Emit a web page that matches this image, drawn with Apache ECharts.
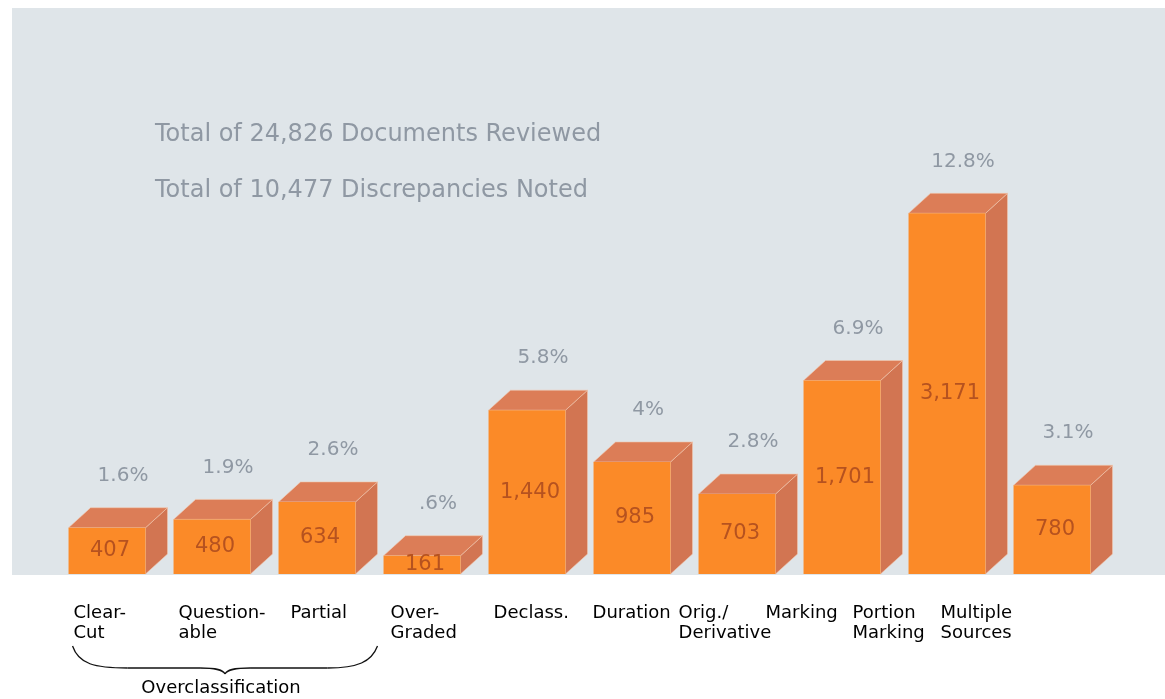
<!DOCTYPE html>
<html>
<head>
<meta charset="utf-8">
<script src="https://cdn.jsdelivr.net/npm/echarts@6/dist/echarts.min.js"></script>
<style>
  html, body { margin: 0; padding: 0; background: #ffffff; }
  #chart { width: 1165px; height: 699px; }
</style>
</head>
<body>
<div id="chart"></div>
<script>
// Discrepancies by category
const categories = [
  'Clear-\nCut', 'Question-\nable', 'Partial', 'Over-\nGraded', 'Declass.',
  'Duration', 'Orig./\nDerivative', 'Marking', 'Portion\nMarking', 'Multiple\nSources'
];
const counts = [407, 480, 634, 161, 1440, 985, 703, 1701, 3171, 780];
const percents = ['1.6%', '1.9%', '2.6%', '.6%', '5.8%', '4%', '2.8%', '6.9%', '12.8%', '3.1%'];
const headerLines = ['Total of 24,826 Documents Reviewed', 'Total of 10,477 Discrepancies Noted'];
const groupLabel = 'Overclassification';
const groupRange = [0, 2];

// typeset nudges of the category captions relative to each bar's front face
const captionShift = [5, 5, 12, 7, 5, -1, -20, -38, -56, -73];

const FONT = '"DejaVu Sans", "Liberation Sans", sans-serif';
const FRONT = '#fb8a28';
const TOP = '#dc7d57';
const SIDE = '#d27552';
const DX = 22, DY = 20;
const FRONT_RATIO = 0.733, FRONT_INSET = 0.129;

const chart = echarts.init(document.getElementById('chart'));

function barGeom(api, i, v) {
  const base = api.coord([i, 0]);
  const top = api.coord([i, v]);
  const bw = api.size([1, 0])[0];
  const fw = bw * FRONT_RATIO;
  const x0 = base[0] - bw / 2 + bw * FRONT_INSET;
  return { x0, fw, yb: base[1], yt: top[1] };
}

const panel = {
  type: 'rect', z: -10, silent: true,
  shape: { x: 12, y: 8, width: 1153, height: 567 },
  style: { fill: '#dfe5e9' }
};

chart.setOption({
  animation: false,
  backgroundColor: '#ffffff',
  title: {
    text: headerLines.join('\n'),
    left: 150,
    top: 102,
    textStyle: { fontFamily: FONT, fontSize: 24, fontWeight: 'normal', color: '#8f98a3', lineHeight: 56 }
  },
  grid: { left: 55, right: 60, top: 119, bottom: 125 },
  xAxis: { type: 'category', data: categories, show: false },
  yAxis: { type: 'value', min: 0, max: 4000, show: false },
  graphic: [panel],
  series: [{
    type: 'custom',
    clip: false,
    data: counts.map((c, i) => [i, c]),
    renderItem(params, api) {
      const i = api.value(0);
      const v = api.value(1);
      const { x0, fw, yb, yt } = barGeom(api, i, v);
      return {
        type: 'group',
        children: [
          {
            type: 'polygon',
            shape: { points: [[x0 + fw, yt], [x0 + fw + DX, yt - DY], [x0 + fw + DX, yb - DY], [x0 + fw, yb]] },
            style: { fill: SIDE, stroke: '#f2c9b0', lineWidth: 0.6 }
          },
          {
            type: 'polygon',
            shape: { points: [[x0, yt], [x0 + DX, yt - DY], [x0 + fw + DX, yt - DY], [x0 + fw, yt]] },
            style: { fill: TOP, stroke: '#f2c9b0', lineWidth: 0.6 }
          },
          {
            type: 'rect',
            shape: { x: x0, y: yt, width: fw, height: yb - yt },
            style: { fill: FRONT }
          },
          {
            type: 'text',
            style: {
              text: echarts.format.addCommas(v),
              x: x0 + fw / 2 + 3, y: (yt + yb) / 2,
              align: 'center', verticalAlign: 'middle',
              fontFamily: FONT, fontSize: 21, fill: '#b6521f'
            }
          },
          {
            type: 'text',
            style: {
              text: percents[i],
              x: x0 + (fw + DX) / 2 + 5, y: yt - DY - 32,
              align: 'center', verticalAlign: 'middle',
              fontFamily: FONT, fontSize: 20, fill: '#8f98a3'
            }
          },
          {
            type: 'text',
            style: {
              text: categories[i],
              x: x0 + captionShift[i], y: yb + 29,
              align: 'left', verticalAlign: 'top',
              fontFamily: FONT, fontSize: 18, lineHeight: 20, fill: '#000000'
            }
          }
        ]
      };
    }
  }]
});

// brace grouping the overclassification categories
const px = (i) => chart.convertToPixel({ xAxisIndex: 0 }, i);
const bw = px(1) - px(0);
const yBase = chart.convertToPixel({ yAxisIndex: 0 }, 0);
const xl = px(groupRange[0]) - bw / 2 + bw * FRONT_INSET + 4;
const xr = px(groupRange[1]) - bw / 2 + bw * FRONT_INSET + bw * FRONT_RATIO + DX;
const xm = (xl + xr) / 2;
const yT = yBase + 72, yH = yBase + 94, yTip = yBase + 100;
const braceStyle = { fill: 'none', stroke: '#111111', lineWidth: 1.3 };
const curve = (x1, y1, c1x, c1y, c2x, c2y, x2, y2) => ({
  type: 'bezierCurve', silent: true,
  shape: { x1, y1, cpx1: c1x, cpy1: c1y, cpx2: c2x, cpy2: c2y, x2, y2 },
  style: braceStyle
});
const seg = (x1, y1, x2, y2) => ({
  type: 'line', silent: true, shape: { x1, y1, x2, y2 }, style: braceStyle
});

chart.setOption({
  graphic: [
    panel,
    curve(xl, yT, xl + 6, yH - 4, xl + 22, yH, xl + 55, yH),
    seg(xl + 55, yH, xm - 25, yH),
    curve(xm - 25, yH, xm - 8, yH, xm - 2, yH + 2, xm, yTip),
    curve(xm, yTip, xm + 2, yH + 2, xm + 8, yH, xm + 25, yH),
    seg(xm + 25, yH, xr - 50, yH),
    curve(xr - 50, yH, xr - 20, yH, xr - 6, yH - 6, xr, yT),
    {
      type: 'text', silent: true,
      style: {
        text: groupLabel, x: xm - 4, y: yBase + 114,
        align: 'center', verticalAlign: 'middle',
        fontFamily: FONT, fontSize: 18, fill: '#000000'
      }
    }
  ]
});
</script>
</body>
</html>
